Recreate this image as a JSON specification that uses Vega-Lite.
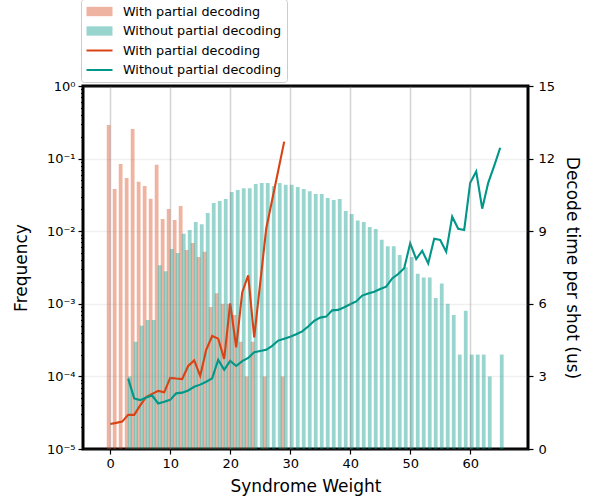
{
  "$schema": "https://vega.github.io/schema/vega-lite/v6.json",
  "width": 445,
  "height": 363,
  "autosize": {"type": "none"},
  "padding": {"left": 83, "top": 86, "right": 66, "bottom": 52},
  "background": "white",
  "config": {
    "view": {"stroke": "black", "strokeWidth": 3},
    "font": "DejaVu Sans",
    "axis": {
      "labelFont": "DejaVu Sans", "labelFontSize": 13, "labelColor": "black",
      "titleFont": "DejaVu Sans", "titleFontSize": 17, "titleFontWeight": "normal", "titleColor": "black",
      "domain": false, "tickColor": "black", "tickSize": 5, "tickWidth": 1.2,
      "gridColor": "#808080", "gridOpacity": 0.35, "gridWidth": 1.5
    }
  },
  "datasets": {
    "freq": [
      {"sw":0,"s":"With partial decoding","p":0.29},
      {"sw":1,"s":"With partial decoding","p":0.038},
      {"sw":2,"s":"With partial decoding","p":0.084},
      {"sw":3,"s":"With partial decoding","p":0.054},
      {"sw":4,"s":"With partial decoding","p":0.256},
      {"sw":5,"s":"With partial decoding","p":0.048},
      {"sw":6,"s":"With partial decoding","p":0.042},
      {"sw":7,"s":"With partial decoding","p":0.028},
      {"sw":8,"s":"With partial decoding","p":0.082},
      {"sw":9,"s":"With partial decoding","p":0.0147},
      {"sw":10,"s":"With partial decoding","p":0.0202},
      {"sw":11,"s":"With partial decoding","p":0.0143},
      {"sw":12,"s":"With partial decoding","p":0.0222},
      {"sw":13,"s":"With partial decoding","p":0.0055},
      {"sw":14,"s":"With partial decoding","p":0.0069},
      {"sw":15,"s":"With partial decoding","p":0.0044},
      {"sw":16,"s":"With partial decoding","p":0.0052},
      {"sw":17,"s":"With partial decoding","p":0.0009},
      {"sw":18,"s":"With partial decoding","p":0.0014},
      {"sw":19,"s":"With partial decoding","p":0.001},
      {"sw":20,"s":"With partial decoding","p":0.001},
      {"sw":21,"s":"With partial decoding","p":0.0007},
      {"sw":22,"s":"With partial decoding","p":0.0003},
      {"sw":23,"s":"With partial decoding","p":0.0001},
      {"sw":24,"s":"With partial decoding","p":0.0003},
      {"sw":26,"s":"With partial decoding","p":0.0001},
      {"sw":29,"s":"With partial decoding","p":0.0001},
      {"sw":3,"s":"Without partial decoding","p":0.0001},
      {"sw":4,"s":"Without partial decoding","p":0.0003},
      {"sw":5,"s":"Without partial decoding","p":0.0005},
      {"sw":6,"s":"Without partial decoding","p":0.0006},
      {"sw":7,"s":"Without partial decoding","p":0.0006},
      {"sw":8,"s":"Without partial decoding","p":0.0034},
      {"sw":9,"s":"Without partial decoding","p":0.0028},
      {"sw":10,"s":"Without partial decoding","p":0.0057},
      {"sw":11,"s":"Without partial decoding","p":0.005},
      {"sw":12,"s":"Without partial decoding","p":0.0092},
      {"sw":13,"s":"Without partial decoding","p":0.0104},
      {"sw":14,"s":"Without partial decoding","p":0.0134},
      {"sw":15,"s":"Without partial decoding","p":0.0125},
      {"sw":16,"s":"Without partial decoding","p":0.0178},
      {"sw":17,"s":"Without partial decoding","p":0.0244},
      {"sw":18,"s":"Without partial decoding","p":0.026},
      {"sw":19,"s":"Without partial decoding","p":0.0278},
      {"sw":20,"s":"Without partial decoding","p":0.0347},
      {"sw":21,"s":"Without partial decoding","p":0.037},
      {"sw":22,"s":"Without partial decoding","p":0.039},
      {"sw":23,"s":"Without partial decoding","p":0.039},
      {"sw":24,"s":"Without partial decoding","p":0.0447},
      {"sw":25,"s":"Without partial decoding","p":0.046},
      {"sw":26,"s":"Without partial decoding","p":0.046},
      {"sw":27,"s":"Without partial decoding","p":0.042},
      {"sw":28,"s":"Without partial decoding","p":0.046},
      {"sw":29,"s":"Without partial decoding","p":0.0437},
      {"sw":30,"s":"Without partial decoding","p":0.0437},
      {"sw":31,"s":"Without partial decoding","p":0.0406},
      {"sw":32,"s":"Without partial decoding","p":0.038},
      {"sw":33,"s":"Without partial decoding","p":0.0355},
      {"sw":34,"s":"Without partial decoding","p":0.0325},
      {"sw":35,"s":"Without partial decoding","p":0.0325},
      {"sw":36,"s":"Without partial decoding","p":0.0287},
      {"sw":37,"s":"Without partial decoding","p":0.0269},
      {"sw":38,"s":"Without partial decoding","p":0.0278},
      {"sw":39,"s":"Without partial decoding","p":0.019},
      {"sw":40,"s":"Without partial decoding","p":0.0173},
      {"sw":41,"s":"Without partial decoding","p":0.014},
      {"sw":42,"s":"Without partial decoding","p":0.0134},
      {"sw":43,"s":"Without partial decoding","p":0.0114},
      {"sw":44,"s":"Without partial decoding","p":0.0107},
      {"sw":45,"s":"Without partial decoding","p":0.0076},
      {"sw":46,"s":"Without partial decoding","p":0.0062},
      {"sw":47,"s":"Without partial decoding","p":0.0062},
      {"sw":48,"s":"Without partial decoding","p":0.0047},
      {"sw":49,"s":"Without partial decoding","p":0.0032},
      {"sw":50,"s":"Without partial decoding","p":0.0044},
      {"sw":51,"s":"Without partial decoding","p":0.0026},
      {"sw":52,"s":"Without partial decoding","p":0.0023},
      {"sw":53,"s":"Without partial decoding","p":0.0023},
      {"sw":54,"s":"Without partial decoding","p":0.0012},
      {"sw":55,"s":"Without partial decoding","p":0.0019},
      {"sw":56,"s":"Without partial decoding","p":0.001},
      {"sw":57,"s":"Without partial decoding","p":0.0007},
      {"sw":58,"s":"Without partial decoding","p":0.0002},
      {"sw":59,"s":"Without partial decoding","p":0.0008},
      {"sw":60,"s":"Without partial decoding","p":0.0002},
      {"sw":61,"s":"Without partial decoding","p":0.0002},
      {"sw":62,"s":"Without partial decoding","p":0.0002},
      {"sw":63,"s":"Without partial decoding","p":0.0001},
      {"sw":65,"s":"Without partial decoding","p":0.0002}
    ],
    "time": [
      {"sw":0,"s":"With partial decoding","t":1.03},
      {"sw":1,"s":"With partial decoding","t":1.08},
      {"sw":2,"s":"With partial decoding","t":1.13},
      {"sw":3,"s":"With partial decoding","t":1.41},
      {"sw":4,"s":"With partial decoding","t":1.41},
      {"sw":5,"s":"With partial decoding","t":1.8},
      {"sw":6,"s":"With partial decoding","t":2.15},
      {"sw":7,"s":"With partial decoding","t":2.28},
      {"sw":8,"s":"With partial decoding","t":2.4},
      {"sw":9,"s":"With partial decoding","t":2.34},
      {"sw":10,"s":"With partial decoding","t":2.94},
      {"sw":11,"s":"With partial decoding","t":2.91},
      {"sw":12,"s":"With partial decoding","t":2.89},
      {"sw":13,"s":"With partial decoding","t":3.43},
      {"sw":14,"s":"With partial decoding","t":3.66},
      {"sw":15,"s":"With partial decoding","t":3.02},
      {"sw":16,"s":"With partial decoding","t":4.1},
      {"sw":17,"s":"With partial decoding","t":4.67},
      {"sw":18,"s":"With partial decoding","t":4.56},
      {"sw":19,"s":"With partial decoding","t":3.72},
      {"sw":20,"s":"With partial decoding","t":6.02},
      {"sw":21,"s":"With partial decoding","t":4.2},
      {"sw":22,"s":"With partial decoding","t":6.47},
      {"sw":23,"s":"With partial decoding","t":7.18},
      {"sw":24,"s":"With partial decoding","t":4.61},
      {"sw":25,"s":"With partial decoding","t":6.85},
      {"sw":26,"s":"With partial decoding","t":9.1},
      {"sw":27,"s":"With partial decoding","t":10.3},
      {"sw":28,"s":"With partial decoding","t":11.5},
      {"sw":29,"s":"With partial decoding","t":12.7},
      {"sw":3,"s":"Without partial decoding","t":2.91},
      {"sw":4,"s":"Without partial decoding","t":2.09},
      {"sw":5,"s":"Without partial decoding","t":2.02},
      {"sw":6,"s":"Without partial decoding","t":2.13},
      {"sw":7,"s":"Without partial decoding","t":2.21},
      {"sw":8,"s":"Without partial decoding","t":1.88},
      {"sw":9,"s":"Without partial decoding","t":1.95},
      {"sw":10,"s":"Without partial decoding","t":2.03},
      {"sw":11,"s":"Without partial decoding","t":2.3},
      {"sw":12,"s":"Without partial decoding","t":2.33},
      {"sw":13,"s":"Without partial decoding","t":2.42},
      {"sw":14,"s":"Without partial decoding","t":2.57},
      {"sw":15,"s":"Without partial decoding","t":2.66},
      {"sw":16,"s":"Without partial decoding","t":2.78},
      {"sw":17,"s":"Without partial decoding","t":2.92},
      {"sw":18,"s":"Without partial decoding","t":3.69},
      {"sw":19,"s":"Without partial decoding","t":3.27},
      {"sw":20,"s":"Without partial decoding","t":3.64},
      {"sw":21,"s":"Without partial decoding","t":3.43},
      {"sw":22,"s":"Without partial decoding","t":3.63},
      {"sw":23,"s":"Without partial decoding","t":3.76},
      {"sw":24,"s":"Without partial decoding","t":4.0},
      {"sw":25,"s":"Without partial decoding","t":4.05},
      {"sw":26,"s":"Without partial decoding","t":4.1},
      {"sw":27,"s":"Without partial decoding","t":4.26},
      {"sw":28,"s":"Without partial decoding","t":4.48},
      {"sw":29,"s":"Without partial decoding","t":4.56},
      {"sw":30,"s":"Without partial decoding","t":4.64},
      {"sw":31,"s":"Without partial decoding","t":4.74},
      {"sw":32,"s":"Without partial decoding","t":4.86},
      {"sw":33,"s":"Without partial decoding","t":5.06},
      {"sw":34,"s":"Without partial decoding","t":5.3},
      {"sw":35,"s":"Without partial decoding","t":5.43},
      {"sw":36,"s":"Without partial decoding","t":5.47},
      {"sw":37,"s":"Without partial decoding","t":5.73},
      {"sw":38,"s":"Without partial decoding","t":5.75},
      {"sw":39,"s":"Without partial decoding","t":5.86},
      {"sw":40,"s":"Without partial decoding","t":5.98},
      {"sw":41,"s":"Without partial decoding","t":6.1},
      {"sw":42,"s":"Without partial decoding","t":6.34},
      {"sw":43,"s":"Without partial decoding","t":6.43},
      {"sw":44,"s":"Without partial decoding","t":6.5},
      {"sw":45,"s":"Without partial decoding","t":6.61},
      {"sw":46,"s":"Without partial decoding","t":6.71},
      {"sw":47,"s":"Without partial decoding","t":7.05},
      {"sw":48,"s":"Without partial decoding","t":7.23},
      {"sw":49,"s":"Without partial decoding","t":7.47},
      {"sw":50,"s":"Without partial decoding","t":8.5},
      {"sw":51,"s":"Without partial decoding","t":7.85},
      {"sw":52,"s":"Without partial decoding","t":8.19},
      {"sw":53,"s":"Without partial decoding","t":7.67},
      {"sw":54,"s":"Without partial decoding","t":8.69},
      {"sw":55,"s":"Without partial decoding","t":8.64},
      {"sw":56,"s":"Without partial decoding","t":8.15},
      {"sw":57,"s":"Without partial decoding","t":9.6},
      {"sw":58,"s":"Without partial decoding","t":9.1},
      {"sw":59,"s":"Without partial decoding","t":9.05},
      {"sw":60,"s":"Without partial decoding","t":11.0},
      {"sw":61,"s":"Without partial decoding","t":11.47},
      {"sw":62,"s":"Without partial decoding","t":9.93},
      {"sw":63,"s":"Without partial decoding","t":11.0},
      {"sw":64,"s":"Without partial decoding","t":11.7},
      {"sw":65,"s":"Without partial decoding","t":12.45}
    ]
  },
  "encoding": {
    "x": {
      "field": "sw", "type": "quantitative",
      "scale": {"domain": [-3.7, 68.8], "nice": false, "zero": false},
      "axis": {"values": [0, 10, 20, 30, 40, 50, 60], "title": "Syndrome Weight", "labelPadding": 3, "titlePadding": 8, "zindex": 1, "labelFlush": false}
    },
    "color": {
      "field": "key", "type": "nominal",
      "scale": {
        "domain": ["bar|With partial decoding", "bar|Without partial decoding", "line|With partial decoding", "line|Without partial decoding"],
        "range": ["#D84315", "#009688", "#D84315", "#009688"]
      },
      "legend": {
        "orient": "none", "legendX": -2, "legendY": -87, "title": null,
        "labelExpr": "split(datum.label, '|')[1]",
        "labelFont": "DejaVu Sans", "labelFontSize": 12.8, "labelColor": "black",
        "symbolSize": 169, "symbolType": "M-2,-0.72H2V0.72H-2Z", "symbolStrokeWidth": 2,
        "symbolOffset": 6, "labelOffset": 16,
        "strokeColor": "#cccccc", "fillColor": "white", "padding": 5, "cornerRadius": 3,
        "rowPadding": 4.5,
        "encode": {
          "symbols": {
            "update": {
              "shape": {"signal": "indexof(datum.value, 'bar|') == 0 ? 'M-2,-0.72H2V0.72H-2Z' : 'M-2,0H2'"},
              "fill": {"signal": "indexof(datum.value, 'bar|') == 0 ? scale('color', datum.value) : 'transparent'"},
              "fillOpacity": {"signal": "indexof(datum.value, 'bar|') == 0 ? 0.4 : 0"},
              "stroke": {"signal": "scale('color', datum.value)"},
              "strokeOpacity": {"signal": "indexof(datum.value, 'bar|') == 0 ? 0 : 1"},
              "opacity": {"value": 1}
            }
          }
        }
      }
    }
  },
  "layer": [
    {
      "data": {"name": "freq"},
      "transform": [{"calculate": "'bar|' + datum.s", "as": "key"}],
      "layer": [
        {
          "transform": [{"filter": "datum.s == 'With partial decoding'"}],
          "mark": {"type": "bar", "size": 3.8, "xOffset": -1.54, "fillOpacity": 0.4, "strokeWidth": 0},
          "encoding": {
            "y": {
              "field": "p", "type": "quantitative",
              "scale": {"type": "log", "domain": [0.00001, 1], "nice": false},
              "axis": {
                "title": "Frequency", "orient": "left", "zindex": 1, "titlePadding": 16,
                "values": [0.00001,0.00002,0.00003,0.00004,0.00005,0.00006,0.00007,0.00008,0.00009,0.0001,0.0002,0.0003,0.0004,0.0005,0.0006,0.0007,0.0008,0.0009,0.001,0.002,0.003,0.004,0.005,0.006,0.007,0.008,0.009,0.01,0.02,0.03,0.04,0.05,0.06,0.07,0.08,0.09,0.1,0.2,0.3,0.4,0.5,0.6,0.7,0.8,0.9,1],
                "labelExpr": "abs(log(datum.value)/LN10 - round(log(datum.value)/LN10)) < 0.001 ? ['10⁰','10⁻¹','10⁻²','10⁻³','10⁻⁴','10⁻⁵'][-round(log(datum.value)/LN10)] : ''",
                "tickSize": {"condition": {"test": "abs(log(datum.value)/LN10 - round(log(datum.value)/LN10)) < 0.001", "value": 5}, "value": 2.5},
                "gridOpacity": {"condition": {"test": "abs(log(datum.value)/LN10 - round(log(datum.value)/LN10)) < 0.001", "value": 0.35}, "value": 0},
                "labelPadding": 3
              }
            },
            "y2": {"datum": 0.00001}
          }
        },
        {
          "transform": [{"filter": "datum.s == 'Without partial decoding'"}],
          "mark": {"type": "bar", "size": 3.8, "xOffset": 1.54, "fillOpacity": 0.4, "strokeWidth": 0},
          "encoding": {
            "y": {"field": "p", "type": "quantitative", "scale": {"type": "log", "domain": [0.00001, 1], "nice": false}},
            "y2": {"datum": 0.00001}
          }
        }
      ]
    },
    {
      "data": {"name": "time"},
      "transform": [{"calculate": "'line|' + datum.s", "as": "key"}],
      "mark": {"type": "line", "strokeWidth": 2.1},
      "encoding": {
        "y": {
          "field": "t", "type": "quantitative",
          "scale": {"domain": [0, 15], "nice": false, "zero": false},
          "axis": {"orient": "right", "title": "Decode time per shot (us)", "values": [0, 3, 6, 9, 12, 15], "grid": false, "labelPadding": 5, "titlePadding": 8}
        },
        "detail": {"field": "s"}
      }
    }
  ],
  "resolve": {"scale": {"y": "independent"}}
}
